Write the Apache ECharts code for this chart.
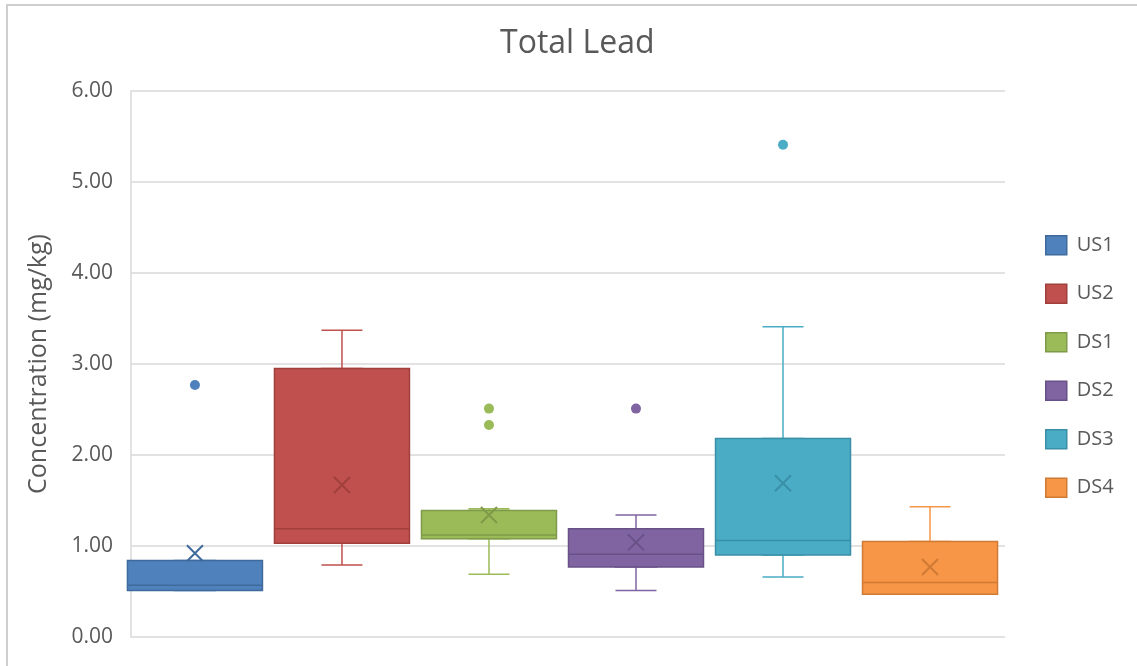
<!DOCTYPE html>
<html>
<head>
<meta charset="utf-8">
<script src="https://cdn.jsdelivr.net/npm/echarts@6/dist/echarts.min.js"></script>
<style>
  html, body { margin: 0; padding: 0; background: #fff; }
  #chart { width: 1137px; height: 666px; }
  #frame {
    position: absolute; left: 6px; top: 4px; right: 0; bottom: 0;
    border-top: 2px solid #cfcfcf; border-left: 2px solid #cfcfcf;
    pointer-events: none;
  }
</style>
</head>
<body>
<div id="chart"></div>
<div id="frame"></div>
<script>
const sites = ['US1', 'US2', 'DS1', 'DS2', 'DS3', 'DS4']
const slots = [1, 2, 3, 4, 5, 6]
const whiskerLow = [0.51, 0.79, 0.69, 0.51, 0.66, 0.47]
const q1 = [0.51, 1.03, 1.08, 0.77, 0.90, 0.47]
const median = [0.57, 1.19, 1.12, 0.91, 1.06, 0.60]
const q3 = [0.84, 2.95, 1.39, 1.19, 2.18, 1.05]
const whiskerHigh = [0.84, 3.37, 1.41, 1.34, 3.41, 1.43]
const means = [0.92, 1.67, 1.34, 1.04, 1.69, 0.77]
const outliers = [[2.77], [], [2.51, 2.33], [2.51], [5.41], []]
const yTicks = [0, 1, 2, 3, 4, 5, 6]

const fills = ['#4f81bd', '#c0504d', '#9bbb59', '#8064a2', '#4bacc6', '#f79646']
const edges = ['#3f6a9c', '#a0403d', '#7f9a48', '#685187', '#3a8fa6', '#cf7a35']
const font = '"Open Sans", "Noto Sans", sans-serif'
const textColor = '#595959'
const crossPath = 'path://M0,0L10,10M10,0L0,10'

const chart = echarts.init(document.getElementById('chart'), null, { renderer: 'canvas' })

// narrow boxplot underneath, only its whiskers and caps stay visible
const whiskerData = sites.map((s, i) => ({
  value: [slots[i], whiskerLow[i], q1[i], median[i], q3[i], whiskerHigh[i]],
  itemStyle: { color: 'rgba(0,0,0,0)', borderColor: fills[i], borderWidth: 1.5 }
}))

const boxData = sites.map((s, i) => ({
  value: [slots[i], q1[i], q1[i], median[i], q3[i], q3[i]],
  itemStyle: { color: fills[i], borderColor: edges[i], borderWidth: 1.5 }
}))

const markerSeries = sites.map((s, i) => {
  const data = [{
    value: [slots[i], means[i]],
    symbol: crossPath,
    symbolSize: 16,
    itemStyle: { color: 'rgba(0,0,0,0)', borderColor: edges[i], borderWidth: 2 }
  }]
  outliers[i].forEach(v => {
    data.push({ value: [slots[i], v], symbol: 'circle', symbolSize: 10 })
  })
  return {
    name: s,
    type: 'scatter',
    xAxisIndex: 0,
    z: 5,
    itemStyle: { color: fills[i], opacity: 1 },
    data: data
  }
})

const hiddenX = {
  type: 'value',
  min: 0.565,
  max: 6.51,
  show: false
}

const option = {
  animation: false,
  title: {
    text: 'Total Lead',
    left: 495,
    top: 23,
    textStyle: { fontFamily: font, fontSize: 32, fontWeight: 'normal', color: textColor }
  },
  legend: {
    orient: 'vertical',
    left: 1040,
    top: 230,
    icon: 'rect',
    itemWidth: 21,
    itemHeight: 19,
    itemGap: 28,
    textStyle: { fontFamily: font, fontSize: 20, color: textColor, lineHeight: 19, padding: [0, 0, 0, 5] },
    data: sites.map((s, i) => ({
      name: s,
      itemStyle: { color: fills[i], borderColor: edges[i], borderWidth: 1.5, opacity: 1 }
    }))
  },
  grid: { left: 131, right: 132, top: 91, bottom: 29 },
  xAxis: [hiddenX, Object.assign({}, hiddenX)],
  yAxis: {
    type: 'value',
    min: yTicks[0],
    max: yTicks[yTicks.length - 1],
    interval: 1,
    name: 'Concentration (mg/kg)',
    nameLocation: 'middle',
    nameRotate: 90,
    nameGap: 80,
    nameTextStyle: { fontFamily: font, fontSize: 25, color: textColor },
    axisLine: { show: true, lineStyle: { color: '#d9d9d9', width: 1.5 } },
    axisTick: { show: false },
    axisLabel: {
      margin: 18,
      fontFamily: font,
      fontSize: 21,
      color: textColor,
      formatter: v => v.toFixed(2)
    },
    splitLine: { lineStyle: { color: '#d9d9d9', width: 1.5 } }
  },
  series: [
    {
      name: 'whiskers',
      type: 'boxplot',
      xAxisIndex: 1,
      z: 1,
      boxWidth: [41, 41],
      silent: true,
      data: whiskerData
    },
    {
      name: 'boxes',
      type: 'boxplot',
      xAxisIndex: 0,
      z: 2,
      boxWidth: [135, 135],
      silent: true,
      data: boxData
    }
  ].concat(markerSeries)
}

chart.setOption(option)
</script>
</body>
</html>
